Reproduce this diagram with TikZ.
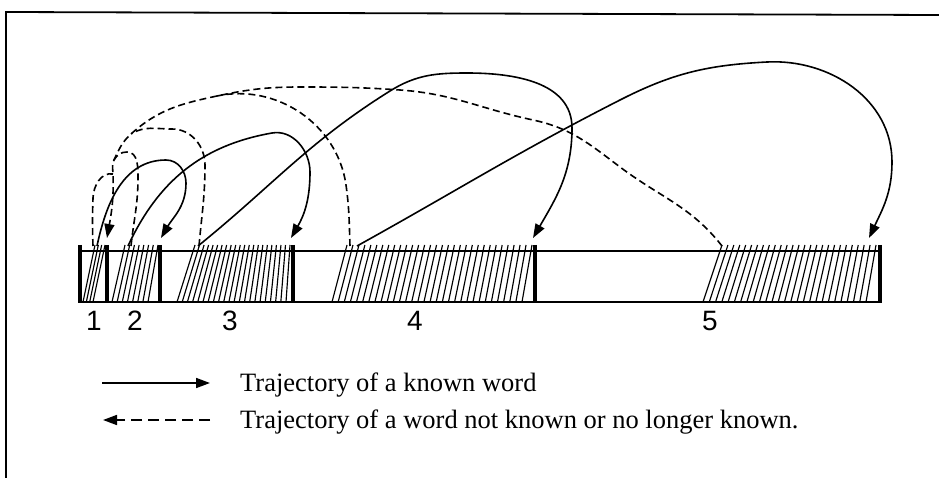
\documentclass[tikz,border=0pt]{standalone}
\usepackage{fontspec}
\setmainfont{Liberation Serif}
\newfontfamily\digitfont{Liberation Sans}
\usetikzlibrary{arrows.meta}
\tikzset{
 known/.style={line width=1.6pt, -{Triangle[length=14pt,width=10pt]}},
 unknown/.style={line width=1.6pt, dash pattern=on 7pt off 4pt, -{Triangle[length=14pt,width=10pt]}},
 unknownpart/.style={line width=1.6pt, dash pattern=on 7pt off 4pt},
 unknownleg/.style={line width=1.6pt, dash pattern=on 11pt off 6pt, -{Triangle[length=14pt,width=10pt]}},
 barline/.style={line width=1.6pt},
 sepline/.style={line width=3.8pt},
 hatchline/.style={line width=1.15pt},
 frameline/.style={line width=1.8pt},
 lbl/.style={font=\digitfont\fontsize{28}{30}\selectfont, anchor=base, inner sep=0pt},
 legtext/.style={font=\fontsize{26.5}{30}\selectfont, anchor=base west, inner sep=0pt},
}
\newcommand\hatchband[5]{%
  \foreach \i in {0,...,#5}{%
    \pgfmathsetmacro\tx{#1+\i*(#2-#1)/#5}%
    \pgfmathsetmacro\bx{#3+\i*(#4-#3)/#5}%
    \draw[hatchline] (\tx,-245) -- (\bx,-302);}}
\begin{document}
\begin{tikzpicture}[x=1pt,y=1pt]
\useasboundingbox (0,0) rectangle (939,-478);
% frame
\coordinate (fbl) at (6,-478);
\coordinate (ftl) at (6,-12);
\coordinate (ftr) at (939,-15);
\draw[frameline] (fbl) -- (ftl) -- (ftr);
% bar
\coordinate (btl) at (80,-251);
\coordinate (btr) at (880,-251);
\coordinate (bbl) at (80,-302);
\coordinate (bbr) at (880,-302);
\draw[barline] (btl) -- (btr);
\draw[barline] (bbl) -- (bbr);
\foreach \x in {80,107,160,293,535,880}{\draw[sepline] (\x,-245) -- (\x,-303);}
% hatching
\hatchband{95}{105}{83}{93}{3}
\hatchband{125}{158}{112}{148}{7}
\hatchband{195}{290}{177}{286}{21}
\hatchband{347}{532}{332}{522}{31}
\hatchband{722}{876}{703}{866}{26}
% labels
\node[lbl] (n1) at (94,-330) {1};
\node[lbl] (n2) at (135,-330) {2};
\node[lbl] (n3) at (230,-330) {3};
\node[lbl] (n4) at (415,-330) {4};
\node[lbl] (n5) at (710,-330) {5};
% start / end points
\coordinate (s1) at (97,-246);
\coordinate (s2) at (128,-246);
\coordinate (s3) at (198,-246);
\coordinate (s4) at (357,-246);
\coordinate (e2) at (161,-238);
\coordinate (e3) at (291,-238);
\coordinate (e4) at (533,-238);
\coordinate (e5) at (869,-238);
\coordinate (d1) at (93,-246);
\coordinate (d2) at (131,-246);
\coordinate (d3) at (199,-246);
\coordinate (d4) at (350,-246);
\coordinate (d5) at (722,-246);
\coordinate (j4) at (217,-96);
\coordinate (j3) at (131,-134);
\coordinate (j2) at (114,-160);
\coordinate (j1) at (113,-174);
\coordinate (el) at (107,-238);
% known words
\draw[known] (s1) to[out=78,in=180] (166,-160) to[out=0,in=90] (186,-183) to[out=-90,in=60] (e2);
\draw[known] (s2) to[out=65,in=190] (272,-133) to[out=10,in=90] (310,-172) to[out=-90,in=60] (e3);
\draw[known] (s3) to[out=39,in=212] (390,-91) to[out=32,in=180] (467,-73) to[out=0,in=90] (572,-128) to[out=-90,in=60] (e4);
\draw[known] (s4) to[out=29,in=207] (620,-100) to[out=27,in=183] (767,-62) to[out=3,in=90] (892,-162) to[out=-90,in=65] (e5);
% unknown words
\draw[unknown] (d5) to[out=128,in=-37] (620,-167) to[out=143,in=-12] (533,-120) to[out=168,in=-4] (400,-90) to[out=176,in=0] (300,-87) to[out=180,in=12] (j4) to[out=192,in=42] (j3) to[out=222,in=65] (j2) to[out=245,in=92] (j1) to[out=-88,in=80] (el);
\draw[unknownpart] (d4) to[out=92,in=-82] (346,-185) to[out=98,in=12] (j4);
\draw[unknownpart] (d3) to[out=85,in=-90] (205,-165) to[out=90,in=0] (172,-129) to[out=180,in=32] (j3);
\draw[unknownpart] (d2) to[out=84,in=-90] (138,-178) to[out=90,in=0] (127,-152) to[out=180,in=60] (j2);
\draw[unknownpart] (d1) to[out=92,in=-92] (93,-198) to[out=88,in=170] (j1);
% legend
\coordinate (l1a) at (102,-383);
\coordinate (l1b) at (210,-383);
\coordinate (l2a) at (210,-420);
\coordinate (l2b) at (103,-420);
\draw[known] (l1a) -- (l1b);
\draw[unknownleg] (l2a) -- (l2b);
\node[legtext] (t1) at (240,-391) {Trajectory of a known word};
\node[legtext] (t2) at (240,-428) {Trajectory of a word not known or no longer known.};
\end{tikzpicture}
\end{document}
